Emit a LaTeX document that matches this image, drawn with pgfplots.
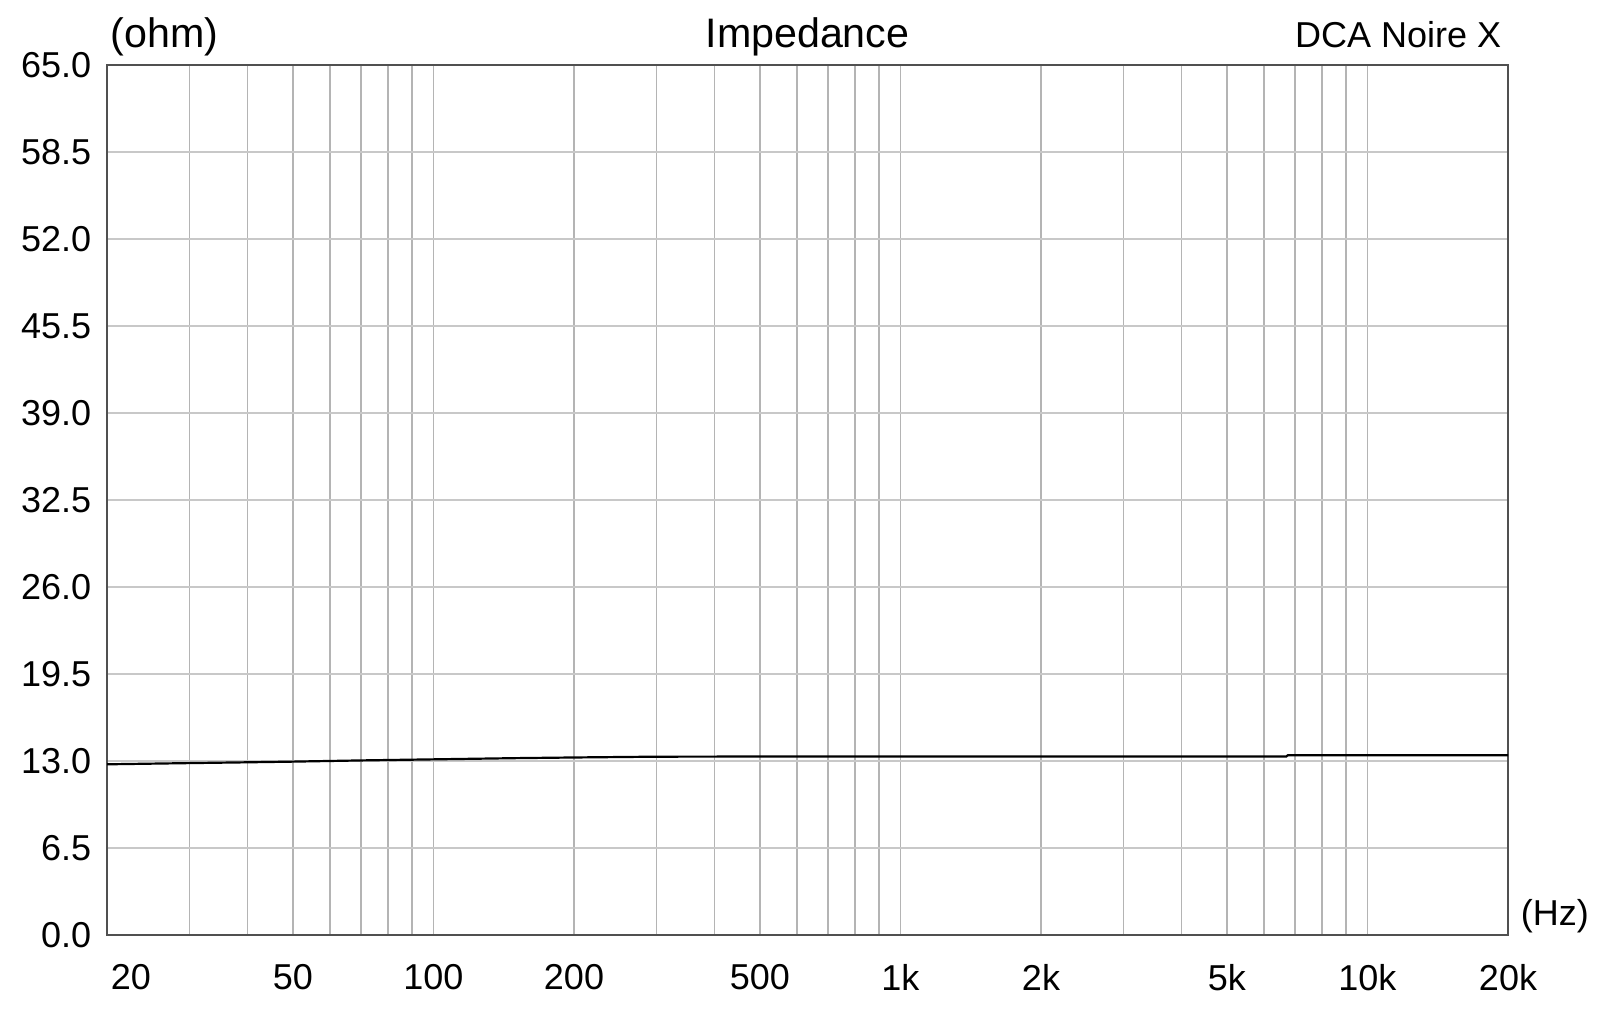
\documentclass[border=0pt]{standalone}
\usepackage{pgfplots}
\pgfplotsset{compat=1.18}
\usepackage{fontspec}
\setmainfont{Liberation Sans}
\definecolor{gridv}{HTML}{B4B4B4}
\definecolor{gridh}{HTML}{C8C8C8}
\definecolor{frame}{HTML}{505050}
\begin{document}
\fontsize{9}{11}\selectfont
\begin{tikzpicture}
\begin{axis}[
  scale only axis, width=350.25pt, height=217.5pt,
  xmode=log, log basis x=10,
  xmin=20, xmax=20000, ymin=0, ymax=65,
  xtick={50,100,200,500,1000,2000,5000,10000,20000},
  xticklabels={50,100,200,500,1k,2k,5k,10k,20k},
  extra x ticks={20}, extra x tick labels={20},
  extra x tick style={grid=none, xticklabel style={anchor=north west, xshift=0.75pt}},
  minor xtick={30,40,60,70,80,90,300,400,600,700,800,900,3000,4000,6000,7000,8000,9000},
  ytick={0,6.5,13,19.5,26,32.5,39,45.5,52,58.5,65},
  /pgf/number format/assume math mode=true,
  yticklabel={\pgfmathprintnumber[fixed,fixed zerofill,precision=1]{\tick}},
  major tick length=0pt, minor tick length=0pt,
  xmajorgrids, xminorgrids, ymajorgrids,
  x grid style={color=gridv, line width=0.35pt},
  minor x grid style={color=gridv, line width=0.35pt},
  y grid style={color=gridh, line width=0.55pt},
  axis line style={color=frame, line width=0.45pt},
  tick label style={font=\fontsize{9}{11}\selectfont},
  xticklabel style={anchor=north, inner sep=0pt, yshift=-7.25pt},
  yticklabel style={anchor=east, inner sep=0pt, xshift=-3.75pt},
  clip mode=individual,
]
\addplot[black, line width=0.55pt] coordinates {
 (20,12.75) (25,12.80) (30,12.84) (40,12.90) (50,12.95) (70,13.04) (100,13.12)
 (150,13.21) (200,13.26) (300,13.32) (500,13.33) (1000,13.33) (2000,13.33)
 (5000,13.33) (6700,13.33) (6750,13.42) (10000,13.43) (20000,13.43)
};
\coordinate (bl) at (rel axis cs:0,0);
\coordinate (tr) at (rel axis cs:1,1);
\node[anchor=base, inner sep=0pt, font=\fontsize{10.3}{12}\selectfont] at ([yshift=4.25pt]rel axis cs:0.5,1) {Impedance};
\node[anchor=base west, inner sep=0pt, font=\fontsize{10.3}{12}\selectfont] at ([xshift=0.75pt,yshift=4.25pt]rel axis cs:0,1) {(ohm)};
\node[anchor=base east, inner sep=0pt, font=\fontsize{9}{11}\selectfont] at ([xshift=-1.5pt,yshift=4.35pt]rel axis cs:1,1) {DCA Noire X};
\node[anchor=base west, inner sep=0pt, font=\fontsize{9}{11}\selectfont] at ([xshift=3pt,yshift=2.25pt]rel axis cs:1,0) {(Hz)};
\end{axis}
\pgfresetboundingbox
\path[use as bounding box] ([xshift=-26.75pt,yshift=-18.5pt]bl) rectangle ([xshift=23pt,yshift=16.25pt]tr);
\end{tikzpicture}
\end{document}
